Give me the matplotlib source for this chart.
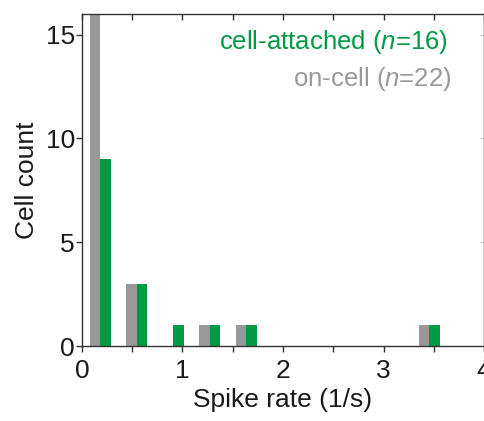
import numpy as np
import matplotlib
matplotlib.use("Agg")
import matplotlib.pyplot as plt
from matplotlib.ticker import MultipleLocator

plt.rcParams['font.family'] = ['Liberation Sans', 'DejaVu Sans']
plt.rcParams['mathtext.fontset'] = 'custom'
plt.rcParams['mathtext.it'] = 'Liberation Sans:italic'
plt.rcParams['mathtext.rm'] = 'Liberation Sans'

# Data: 11 bins spanning 0-4 spikes/s
bin_edges = np.linspace(0, 4, 12)
on_cell_counts = [16, 3, 0, 1, 1, 0, 0, 0, 0, 1, 0]
cell_attached_counts = [9, 3, 1, 1, 1, 0, 0, 0, 0, 1, 0]
x_ticks = [0, 1, 2, 3, 4]
y_ticks = [0, 5, 10, 15]

green = '#009A44'
gray = '#999999'
spine_c = '#333333'
text_c = '#1a1a1a'

fig = plt.figure(figsize=(4.85, 4.21), dpi=100)
ax = fig.add_axes([0.169, 0.178, 0.829, 0.789])

centers = (bin_edges[:-1] + bin_edges[1:]) / 2
bw = (bin_edges[1] - bin_edges[0]) * 0.29
ax.bar(centers - bw / 2, on_cell_counts, width=bw, color=gray, linewidth=0)
ax.bar(centers + bw / 2, cell_attached_counts, width=bw, color=green, linewidth=0)

ax.set_xlim(0, 4)
ax.set_ylim(0, 16)
ax.set_xticks(x_ticks)
ax.xaxis.set_minor_locator(MultipleLocator(0.5))
ax.set_yticks(y_ticks)

for s in ax.spines.values():
    s.set_color(spine_c)
    s.set_linewidth(1.0)

ax.tick_params(axis='x', which='both', direction='out', length=4, width=1,
               color=spine_c, labelsize=19, pad=5, top=False, labelcolor=text_c)
ax.tick_params(axis='y', which='both', direction='out', length=4, width=1,
               color=spine_c, labelsize=19, pad=1, labelcolor=text_c)

secx = ax.secondary_xaxis('top')
secx.set_xticks(x_ticks)
secx.xaxis.set_minor_locator(MultipleLocator(0.5))
secx.tick_params(axis='x', which='both', direction='in', length=4, width=1,
                 color=spine_c, labeltop=False)
secx.spines['top'].set_visible(False)

secy = ax.secondary_yaxis('right')
secy.set_yticks(y_ticks)
secy.tick_params(axis='y', which='both', direction='in', length=3, width=0.6,
                 color='#bbbbbb', labelright=False)
secy.spines['right'].set_visible(False)

ax.set_xlabel('Spike rate (1/s)', fontsize=19, labelpad=4, color=text_c)
ax.set_ylabel('Cell count', fontsize=19, labelpad=5, color=text_c)

ax.text(0.91, 0.915, 'cell-attached ($\\it{n}$=16)', transform=ax.transAxes,
        ha='right', va='center', fontsize=18.5, color=green)
ax.text(0.92, 0.805, 'on-cell ($\\it{n}$=22)', transform=ax.transAxes,
        ha='right', va='center', fontsize=18.5, color=gray)

fig.savefig('out.png', dpi=100)
